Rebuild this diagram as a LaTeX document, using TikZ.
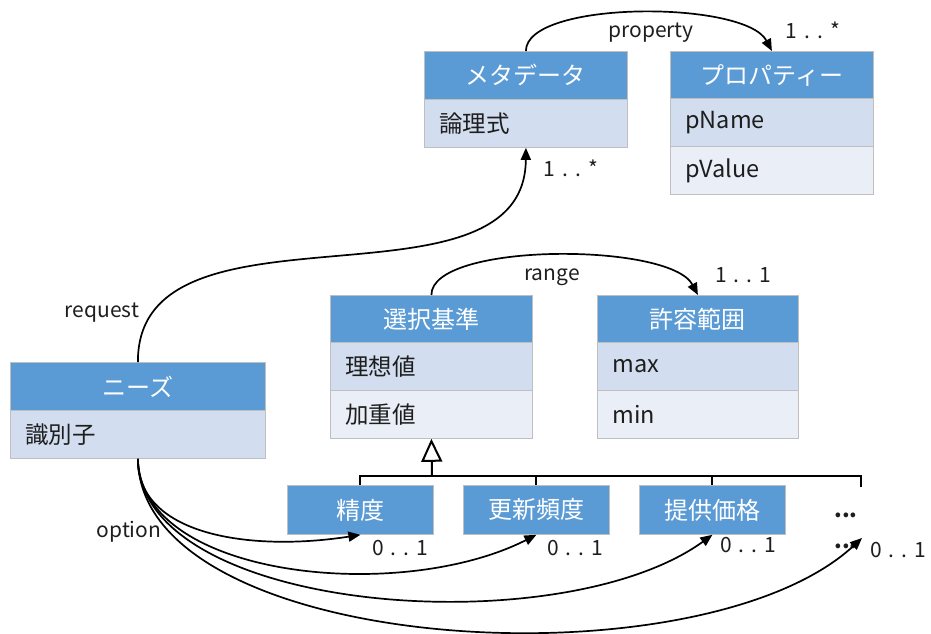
\documentclass[tikz,border=0pt]{standalone}
\usepackage{fontspec}
\setmainfont{Noto Sans CJK JP}
\usetikzlibrary{arrows.meta}
\definecolor{hdrblue}{HTML}{5B9BD5}
\definecolor{rowA}{HTML}{D2DEEF}
\definecolor{rowB}{HTML}{EAEFF7}
\definecolor{edgegray}{HTML}{BFBFBF}
\definecolor{ink}{HTML}{1E1E1E}
\newcommand\mlt[2]{#1\kern7pt.\kern7pt.\kern7pt#2}
\begin{document}
\begin{tikzpicture}[x=1pt,y=-1pt,
  box/.style={draw=edgegray, line width=0.8pt, anchor=north west, inner sep=0pt, minimum height=48pt},
  hdr/.style={box, fill=hdrblue, text=white, font=\fontsize{24}{26}\selectfont, align=center},
  rowa/.style={box, fill=rowA, text=ink, font=\fontsize{23.5}{26}\selectfont, align=left, inner xsep=15pt},
  rowb/.style={box, fill=rowB, text=ink, font=\fontsize{23.5}{26}\selectfont, align=left, inner xsep=15pt},
  lbl/.style={text=ink, font=\fontsize{21}{24}\selectfont, inner sep=0pt},
  conn/.style={line width=1.7pt, -{Triangle[length=12pt,width=10pt]}},
  genline/.style={line width=2pt},
  gen/.style={line width=2pt, -{Triangle[open,length=23pt,width=21pt]}}
]
\useasboundingbox (0,0) rectangle (931,633);

% metadata
\node[hdr, minimum width=203pt] (meta) at (424,51) {メタデータ};
\node[rowa, text width=173pt] (metaA) at (424,99) {論理式};

% property
\node[hdr, minimum width=203pt] (prop) at (670,51) {プロパティー};
\node[rowa, text width=173pt] (propA) at (670,98) {pName};
\node[rowb, text width=173pt] (propB) at (670,146) {pValue};

% selection criteria
\node[hdr, minimum width=202pt] (sel) at (330,295) {選択基準};
\node[rowa, text width=172pt] (selA) at (330,342) {理想値};
\node[rowb, text width=172pt] (selB) at (330,390) {加重値};

% tolerance
\node[hdr, minimum width=201pt] (tol) at (597,295) {許容範囲};
\node[rowa, text width=171pt] (tolA) at (597,342) {max};
\node[rowb, text width=171pt] (tolB) at (597,390) {min};

% needs
\node[hdr, minimum width=255pt] (needs) at (10,362) {ニーズ};
\node[rowa, text width=225pt] (needsA) at (10,410) {識別子};

% subclasses
\node[hdr, minimum width=146pt, minimum height=49pt] (acc) at (287,485) {精度};
\node[hdr, minimum width=146pt, minimum height=49pt] (upd) at (463,485) {更新頻度};
\node[hdr, minimum width=146pt, minimum height=49pt] (price) at (639,485) {提供価格};
\node[font=\fontsize{22}{24}\selectfont\bfseries, text=ink, inner sep=0pt] (dotsA) at (846,515) {...};
\node[font=\fontsize{22}{24}\selectfont\bfseries, text=ink, inner sep=0pt] (dotsB) at (846,546) {...};
\coordinate (dotstop) at (861,487);
\coordinate (dotsend) at (862,538);
\coordinate (bar) at (432,476);

% generalization
\draw[genline] (acc.north) |- (bar);
\draw[genline] (upd.north) |- (bar);
\draw[genline] (price.north) |- (bar);
\draw[genline] (dotstop) |- (bar);
\draw[gen] (bar) -- (selB.south);

% associations
\draw[conn] (meta.north) .. controls (526,0) and (745,0) .. (prop.north);
\draw[conn] (sel.north) .. controls (431,242) and (670,242) .. (tol.north);
\draw[conn] (needs.north) .. controls (137,188) and (525,322) .. (metaA.south);
\draw[conn] (needsA.south) .. controls (137,535) and (250,552) .. (acc.south);
\draw[conn] (needsA.south) .. controls (140,578) and (400,604) .. (upd.south);
\draw[conn] (needsA.south) .. controls (140,614) and (560,645) .. (price.south);
\draw[conn] (needsA.south) .. controls (140,655) and (700,688) .. (dotsend);

% labels
\node[lbl] (lprop) at (651,33) {property};
\node[lbl] (mprop) at (813,30) {\mlt{1}{*}};
\node[lbl] (mmeta) at (571,168) {\mlt{1}{*}};
\node[lbl] (lrange) at (552,277) {range};
\node[lbl] (mrange) at (743,275) {\mlt{1}{1}};
\node[lbl] (lreq) at (102,313) {request};
\node[lbl] (lopt) at (129,532) {option};
\node[lbl] (m1) at (400,548) {\mlt{0}{1}};
\node[lbl] (m2) at (575,548) {\mlt{0}{1}};
\node[lbl] (m3) at (748,545) {\mlt{0}{1}};
\node[lbl] (m4) at (898,550) {\mlt{0}{1}};
\end{tikzpicture}
\end{document}
